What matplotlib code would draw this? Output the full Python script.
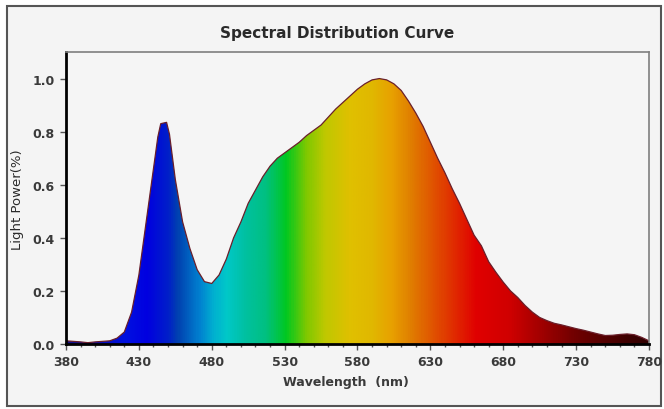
import matplotlib
matplotlib.use("Agg")
import numpy as np
import matplotlib.pyplot as plt
from matplotlib.colors import LinearSegmentedColormap
from matplotlib.patches import Rectangle, Polygon
from matplotlib.ticker import MultipleLocator, FormatStrFormatter

# spectrum (nm, relative power)
wavelength = [380, 385, 390, 395, 400, 405, 410, 415, 420, 425, 430, 435, 440, 443, 445,
              449, 451, 455, 460, 465, 470, 475, 480, 485, 490, 495, 500, 505, 510, 515,
              520, 525, 530, 535, 540, 545, 550, 555, 560, 565, 570, 575, 580, 585, 590,
              595, 600, 605, 610, 615, 620, 625, 630, 635, 640, 645, 650, 655, 660, 665,
              670, 675, 680, 685, 690, 695, 700, 705, 710, 715, 720, 725, 730, 735, 740,
              745, 750, 755, 760, 765, 770, 775, 780]
power = [0.012, 0.010, 0.008, 0.005, 0.008, 0.010, 0.012, 0.022, 0.045, 0.12, 0.26, 0.46, 0.66, 0.78, 0.83,
         0.835, 0.79, 0.62, 0.46, 0.36, 0.28, 0.235, 0.228, 0.26, 0.32, 0.40, 0.46, 0.53, 0.58, 0.63,
         0.67, 0.70, 0.72, 0.74, 0.76, 0.785, 0.805, 0.825, 0.855, 0.885, 0.91, 0.935, 0.96, 0.98, 0.995,
         1.0, 0.995, 0.98, 0.955, 0.915, 0.87, 0.82, 0.76, 0.70, 0.645, 0.585, 0.53, 0.47, 0.41, 0.37,
         0.31, 0.27, 0.233, 0.20, 0.175, 0.145, 0.12, 0.10, 0.088, 0.078, 0.072, 0.065, 0.058, 0.052, 0.045,
         0.038, 0.032, 0.033, 0.036, 0.038, 0.035, 0.025, 0.012]

# rainbow under the curve
stop_nm = [380, 420, 435, 450, 456, 471, 481, 490, 503, 517, 531, 545, 558, 575, 590,
           604, 616, 639, 662, 685, 707, 730, 765, 780]
stop_colors = ['#14108a', '#0010e0', '#0000e0', '#0020c8', '#0040b0', '#0080d0', '#00b0d0',
               '#00c8c8', '#00c0a0', '#00c080', '#00c820', '#80c800', '#c0c800', '#e0c000',
               '#e0b800', '#e8a000', '#e08000', '#e04000', '#e00000', '#d00000', '#a00000',
               '#700000', '#400000', '#300000']

plt.rcParams['font.family'] = ['DejaVu Sans']

cmap = LinearSegmentedColormap.from_list(
    'spec', list(zip([(n - 380) / 400 for n in stop_nm], stop_colors)))

fig = plt.figure(figsize=(6.64, 4.10), dpi=100, facecolor='white')
fig.patches.append(Rectangle((7 / 664, 3 / 410), 654 / 664, 400 / 410, transform=fig.transFigure,
                             facecolor='#f4f4f4', edgecolor='#555555', lw=1.5, zorder=-10))

ax = fig.add_axes([0.0994, 0.1585, 0.878, 0.7122])
ax.set_facecolor('#f5f5f5')

verts = [(wavelength[0], 0)] + list(zip(wavelength, power)) + [(wavelength[-1], 0)]
shape = Polygon(verts, closed=True, facecolor='none', edgecolor='none')
ax.add_patch(shape)
grad = np.linspace(0, 1, 800).reshape(1, -1)
im = ax.imshow(grad, cmap=cmap, extent=[380, 780, 0, 1.1], aspect='auto',
               origin='lower', interpolation='bilinear')
im.set_clip_path(shape)
ax.plot(wavelength, power, color='#6a1f2a', lw=0.9)

ax.set_xlim(380, 780)
ax.set_ylim(0, 1.1)
ax.set_xticks(range(380, 781, 50))
ax.xaxis.set_minor_locator(MultipleLocator(10))
ax.set_yticks([0, 0.2, 0.4, 0.6, 0.8, 1.0])
ax.yaxis.set_major_formatter(FormatStrFormatter('%.1f'))
ax.tick_params(which='major', direction='out', length=4, width=1, color='#555555',
               labelsize=9, labelcolor='#3a3a3a', pad=4)
ax.tick_params(which='minor', direction='out', length=2.5, width=1, color='#555555')
for lab in ax.get_xticklabels() + ax.get_yticklabels():
    lab.set_fontweight('bold')

for s in ['left', 'bottom']:
    ax.spines[s].set_color('black')
    ax.spines[s].set_linewidth(2)
for s in ['top', 'right']:
    ax.spines[s].set_color('#7f7f7f')
    ax.spines[s].set_linewidth(1.2)

fig.text(0.507, 0.919, 'Spectral Distribution Curve', ha='center', va='center',
         fontsize=11, fontweight='bold', color='#2a2a2a')
fig.text(0.521, 0.066, 'Wavelength  (nm)', ha='center', va='center',
         fontsize=9, fontweight='bold', color='#3a3a3a')
fig.text(0.026, 0.512, 'Light Power(%)', ha='center', va='center', rotation=90,
         fontsize=9.5, color='#2a2a2a')

fig.savefig('out.png', dpi=100)
